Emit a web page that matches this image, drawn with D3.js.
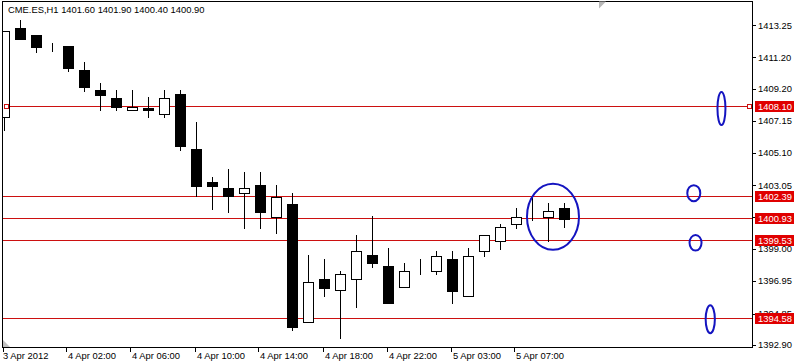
<!DOCTYPE html>
<html><head><meta charset="utf-8">
<script src="https://cdn.jsdelivr.net/npm/d3@7/dist/d3.min.js"></script>
<style>
html,body{margin:0;padding:0;background:#fff;}
svg{display:block;font-family:"Liberation Sans",Arial,sans-serif;font-size:9.4px;}
</style></head><body>
<svg id="c" width="794" height="363"></svg>
<script>
// ---- data ----
const symbolTitle = "CME.ES,H1";
const headerValues = ["1401.60", "1401.90", "1400.40", "1400.90"];
const opens  = [1407.37,1413.04,1412.61,1411.60,1411.91,1410.38,1409.11,1408.60,1407.84,1407.94,1407.56,1408.86,1405.35,1403.23,1402.87,1402.53,1403.06,1401.04,1401.85,1394.35,1397.07,1396.35,1397.05,1398.60,1397.90,1396.54,1397.86,1397.56,1398.33,1396.01,1398.84,1399.51,1400.57,1400.90,1401.04,1401.60];
const highs  = [1412.85,1413.57,1412.61,1412.08,1411.91,1410.87,1409.58,1409.11,1409.11,1408.65,1409.11,1409.11,1407.09,1403.55,1404.08,1403.89,1403.89,1403.06,1402.53,1398.60,1398.35,1397.58,1399.87,1401.10,1399.03,1398.11,1398.35,1398.86,1398.87,1399.03,1399.87,1400.57,1401.61,1402.21,1401.89,1401.90];
const lows   = [1406.56,1412.34,1411.55,1411.60,1410.34,1409.07,1407.84,1407.84,1407.84,1407.37,1407.37,1405.29,1402.36,1401.53,1401.36,1400.34,1400.34,1400.02,1393.82,1394.35,1396.01,1393.33,1395.31,1397.86,1395.52,1396.54,1397.37,1397.37,1395.52,1396.01,1398.56,1398.98,1400.34,1400.85,1399.51,1400.40];
const closes = [1412.85,1412.34,1411.87,1411.60,1410.53,1409.32,1408.81,1408.05,1408.05,1407.84,1408.58,1405.56,1403.01,1403.01,1402.36,1402.87,1401.36,1402.31,1394.03,1396.86,1396.52,1397.37,1398.86,1398.07,1395.52,1397.58,1397.86,1398.56,1396.33,1398.56,1399.85,1400.36,1401.04,1400.90,1401.40,1400.90];

const priceTicks = [1413.25,1411.20,1409.20,1407.15,1405.10,1403.05,1401.00,1399.00,1396.95,1394.85,1392.90];
const timeTickIndex = [0,4,8,12,16,20,24,28,32];
const timeTickLabels = ["3 Apr 2012","4 Apr 02:00","4 Apr 06:00","4 Apr 10:00","4 Apr 14:00","4 Apr 18:00","4 Apr 22:00","5 Apr 03:00","5 Apr 07:00"];

const levelPrices = [1408.10,1402.39,1400.93,1399.53,1394.58];
const levelLabels = ["1408.10","1402.39","1400.93","1399.53","1394.58"];
const selectedLevel = 1408.10;

// annotation ellipses: centre in bar units / price
const ellipseBars   = [34.28,44.81,43.08,43.19,44.11];
const ellipsePrices = [1401.04,1407.93,1402.54,1399.38,1394.51];
const ellipseRx     = [26,4,6.5,6,4.6];
const ellipseRy     = [33,16.5,8,7.8,14];

// ---- layout ----
const L = 2.5, R = 752.5, T = 1.5, B = 347.5;
const svg = d3.select("#c");
const x = d3.scaleLinear().domain([0, 35]).range([4.5, 564.5]);
const y = d3.scaleLinear().domain([1392.90, 1413.25]).range([344.5, 25]);
const bw = 11;
const red = "#e00000", lineRed = "#cc1010", blue = "#1414c0";

svg.append("defs").append("clipPath").attr("id","plot")
  .append("rect").attr("x",L+0.5).attr("y",T+0.5).attr("width",R-L-1).attr("height",B-T-1);

// frame
svg.append("path").attr("d",`M${L},${B}V${T}H${R}V${B}H${L}`)
  .attr("fill","none").attr("stroke","#000").attr("stroke-width",1).attr("shape-rendering","crispEdges");

// gray corner triangles
svg.append("path").attr("d","M599,1.5 L606,1.5 L599,8.5Z").attr("fill","#b8b8b8");
svg.append("path").attr("d","M3,347 L3,340 L10,347Z").attr("fill","#c0c0c0");

const plot = svg.append("g").attr("clip-path","url(#plot)");

// horizontal level lines
plot.selectAll("line.lvl").data(levelPrices).enter().append("line")
  .attr("x1",L).attr("x2",R)
  .attr("y1",d=>Math.round(y(d))+0.5).attr("y2",d=>Math.round(y(d))+0.5)
  .attr("stroke",lineRed).attr("stroke-width",1).attr("shape-rendering","crispEdges");

// candles
const idx = d3.range(opens.length);
const g = plot.append("g").attr("shape-rendering","crispEdges");
g.selectAll("line.w").data(idx).enter().append("line")
  .attr("x1",i=>x(i)).attr("x2",i=>x(i))
  .attr("y1",i=>Math.round(y(highs[i]))).attr("y2",i=>Math.round(y(lows[i]))+1)
  .attr("stroke","#000").attr("stroke-width",1);
g.selectAll("rect.b").data(idx).enter().append("rect")
  .attr("x",i=>x(i)-bw/2+0.5)
  .attr("y",i=>Math.round(y(Math.max(opens[i],closes[i])))+0.5)
  .attr("width",bw-1)
  .attr("height",i=>Math.max(0,Math.round(y(Math.min(opens[i],closes[i])))-Math.round(y(Math.max(opens[i],closes[i])))))
  .attr("fill",i=>closes[i]<opens[i]?"#000":"#fff")
  .attr("stroke","#000").attr("stroke-width",1);

// annotation ellipses
plot.selectAll("ellipse").data(ellipseBars).enter().append("ellipse")
  .attr("cx",(d)=>x(d)).attr("cy",(d,i)=>y(ellipsePrices[i]))
  .attr("rx",(d,i)=>ellipseRx[i]).attr("ry",(d,i)=>ellipseRy[i])
  .attr("fill","none").attr("stroke",blue).attr("stroke-width",2);

// selected-line markers
const sy = Math.round(y(selectedLevel));
[4.5, 747.5].forEach(px=>{
  svg.append("rect").attr("x",px).attr("y",sy-1.5).attr("width",4).attr("height",4)
    .attr("fill","#fff").attr("stroke",lineRed).attr("stroke-width",1).attr("shape-rendering","crispEdges");
});

// right price axis
const ay = svg.append("g");
ay.selectAll("line").data(priceTicks).enter().append("line")
  .attr("x1",R).attr("x2",R+3).attr("y1",d=>Math.round(y(d))+0.5).attr("y2",d=>Math.round(y(d))+0.5)
  .attr("stroke","#000").attr("shape-rendering","crispEdges");
ay.selectAll("text").data(priceTicks).enter().append("text")
  .attr("x",758).attr("y",d=>y(d)+3.5).attr("fill","#000").text(d=>d.toFixed(2));

// level labels on axis
const lg = svg.append("g");
lg.selectAll("rect").data(levelPrices).enter().append("rect")
  .attr("x",755).attr("y",d=>Math.round(y(d))-5).attr("width",40).attr("height",11)
  .attr("fill",red).attr("shape-rendering","crispEdges");
lg.selectAll("text").data(levelPrices).enter().append("text")
  .attr("x",758).attr("y",d=>Math.round(y(d))+3.8).attr("fill","#fff").text((d,i)=>levelLabels[i]);

// bottom time axis
const ax = svg.append("g");
ax.selectAll("line").data(timeTickIndex).enter().append("line")
  .attr("x1",i=>Math.round(x(i))-1.5).attr("x2",i=>Math.round(x(i))-1.5).attr("y1",B).attr("y2",B+4)
  .attr("stroke","#000").attr("shape-rendering","crispEdges");
ax.selectAll("text").data(timeTickIndex).enter().append("text")
  .attr("x",(i,k)=>k===0?3:Math.round(x(i))).attr("y",359).attr("fill","#000").text((i,k)=>timeTickLabels[k]);

// header
svg.append("text").attr("x",8).attr("y",12.5).attr("fill","#000")
  .text(symbolTitle + "  " + headerValues.join(" "));
</script>
</body></html>
